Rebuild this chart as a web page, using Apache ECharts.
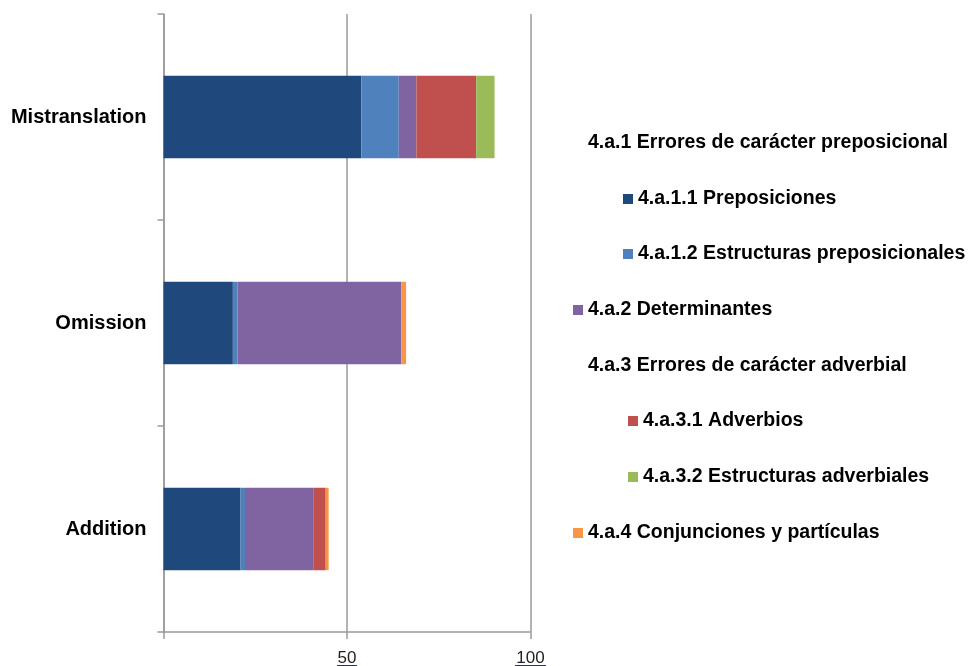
<!DOCTYPE html>
<html><head><meta charset="utf-8">
<script src="https://cdn.jsdelivr.net/npm/echarts@6/dist/echarts.min.js"></script>
<style>html,body{margin:0;padding:0;background:#fff}#c{width:971px;height:666px}</style>
</head><body><div id="c"></div>
<script>
// ---- data ----
const categories = ['Mistranslation', 'Omission', 'Addition'];
const legendNames = [
  '4.a.1 Errores de carácter preposicional',
  '4.a.1.1 Preposiciones',
  '4.a.1.2 Estructuras preposicionales',
  '4.a.2 Determinantes',
  '4.a.3 Errores de carácter adverbial',
  '4.a.3.1 Adverbios',
  '4.a.3.2 Estructuras adverbiales',
  '4.a.4 Conjunciones y partículas'
];
const headerPrep = [];            // group heading, no values
const preposiciones = [53.9, 18.9, 21.0];
const estructurasPrep = [10.2, 1.3, 1.2];
const determinantes = [4.8, 44.6, 18.6];
const headerAdv = [];             // group heading, no values
const adverbios = [16.3, 0, 3.4];
const estructurasAdv = [5.0, 0, 0];
const conjunciones = [0, 1.3, 0.8];
const xTicks = [0, 50, 100];

// ---- styles / layout ----
const seriesValues = [headerPrep, preposiciones, estructurasPrep, determinantes, headerAdv, adverbios, estructurasAdv, conjunciones];
const colors = ['transparent', '#1F497D', '#4F81BD', '#8064A2', 'transparent', '#C0504D', '#9BBB59', '#F79646'];
const isHeader = [true, false, false, false, true, false, false, false];
const legendLeft = [573, 623, 623, 573, 573, 628, 628, 573];
const legendCenterY0 = 143, legendStep = 55.65;

const series = legendNames.map((name, i) => ({
  name: name,
  type: 'bar',
  stack: 'total',
  barWidth: '40%',
  data: seriesValues[i],
  itemStyle: { color: colors[i] },
  emphasis: { disabled: true }
}));

const legends = legendNames.map((name, i) => ({
  data: [isHeader[i] ? { name: name, icon: 'none' } : { name: name, icon: 'rect' }],
  orient: 'vertical',
  left: legendLeft[i],
  top: Math.round(legendCenterY0 + legendStep * i - 10),
  padding: 0,
  itemWidth: 10,
  itemHeight: 10,
  selectedMode: false,
  textStyle: { fontFamily: 'Liberation Sans, Arial, sans-serif', fontWeight: 'bold', fontSize: 19.5, color: '#000', lineHeight: 20 }
}));

const chart = echarts.init(document.getElementById('c'), null, { renderer: 'canvas' });
chart.setOption({
  animation: false,
  backgroundColor: '#fff',
  grid: { left: 163.5, right: 440.5, top: 14, bottom: 34, containLabel: false, outerBoundsMode: 'none' },
  legend: legends,
  xAxis: {
    type: 'value',
    min: xTicks[0],
    max: xTicks[xTicks.length - 1],
    interval: xTicks[1] - xTicks[0],
    axisLine: { show: true, lineStyle: { color: '#9a9a9a', width: 1.5 } },
    axisTick: { show: true, inside: false, length: 7, lineStyle: { color: '#9a9a9a', width: 1.5 } },
    splitLine: { show: true, lineStyle: { color: '#9a9a9a', width: 1.5 } },
    axisLabel: {
      margin: 20,
      formatter: v => v === 0 ? '' : '{t|' + v + '}\n{u' + String(v).length + '|}',
      rich: {
        t: { fontFamily: 'Liberation Sans, Arial, sans-serif', fontSize: 17, lineHeight: 13, color: '#222' },
        u2: { width: 20, height: 1, backgroundColor: '#2a3550' },
        u3: { width: 31, height: 1, backgroundColor: '#2a3550' }
      }
    }
  },
  yAxis: {
    type: 'category',
    inverse: true,
    data: categories,
    axisLine: { show: true, lineStyle: { color: '#9a9a9a', width: 1.5 } },
    axisTick: { show: true, inside: false, length: 6, lineStyle: { color: '#9a9a9a', width: 1.5 } },
    splitLine: { show: false },
    axisLabel: { margin: 17, fontFamily: 'Liberation Sans, Arial, sans-serif', fontWeight: 'bold', fontSize: 20, color: '#000', padding: [3, 0, 0, 0] }
  },
  series: series
});
</script>
</body></html>
